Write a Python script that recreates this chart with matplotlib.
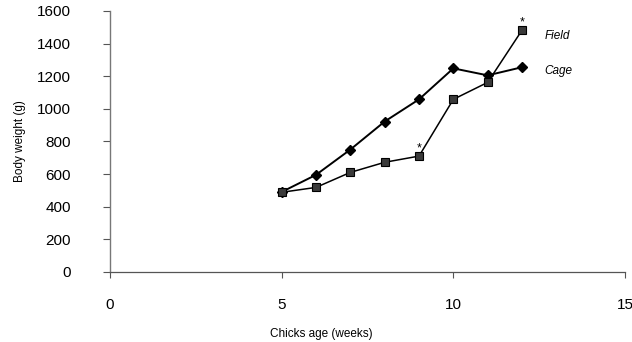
import matplotlib
matplotlib.use("Agg")
import matplotlib.pyplot as plt

plt.rcParams['font.family'] = ['Liberation Sans', 'DejaVu Sans']

weeks = [5, 6, 7, 8, 9, 10, 11, 12]
cage = [490, 595, 750, 922, 1058, 1248, 1205, 1255]
field = [488, 518, 610, 672, 710, 1058, 1162, 1482]
x_ticks = [0, 5, 10, 15]
y_ticks = [0, 200, 400, 600, 800, 1000, 1200, 1400, 1600]
star_weeks = [9, 12]
star_vals = [760, 1530]

fig = plt.figure(figsize=(6.32, 3.42), dpi=100)
ax = fig.add_axes([0.174, 0.205, 0.815, 0.763])

ax.plot(weeks, cage, color='black', lw=1.4, marker='D', ms=5.5,
        mfc='black', mec='black', zorder=3)
ax.plot(weeks, field, color='black', lw=1.1, marker='s', ms=5.8,
        mfc='#3a3a3a', mec='black', mew=0.8, zorder=3)
for w, v in zip(star_weeks, star_vals):
    ax.text(w, v, '*', ha='center', va='center', fontsize=9, color='black')

ax.text(0.843, 0.905, 'Field', transform=ax.transAxes, fontsize=8.5,
        style='italic', ha='left', va='center')
ax.text(0.843, 0.768, 'Cage', transform=ax.transAxes, fontsize=8.5,
        style='italic', ha='left', va='center')

ax.set_xlim(0, 15)
ax.set_ylim(0, 1600)
ax.set_xticks(x_ticks)
ax.set_yticks(y_ticks)
ax.tick_params(axis='y', direction='out', length=5, pad=23, labelsize=11,
               color='#555555')
ax.tick_params(axis='x', direction='out', length=4, pad=15, labelsize=11,
               color='#555555')
for s in ['top', 'right']:
    ax.spines[s].set_visible(False)
ax.spines['left'].set_color('#777777')
ax.spines['bottom'].set_color('#555555')
ax.spines['left'].set_linewidth(1.0)
ax.spines['bottom'].set_linewidth(0.9)

ax.set_xlabel('Chicks age (weeks)', fontsize=8.5)
ax.set_ylabel('Body weight (g)', fontsize=8.5)
ax.xaxis.set_label_coords(0.41, -0.215)
ax.yaxis.set_label_coords(-0.163, 0.5)

fig.savefig('out.png', dpi=100)
